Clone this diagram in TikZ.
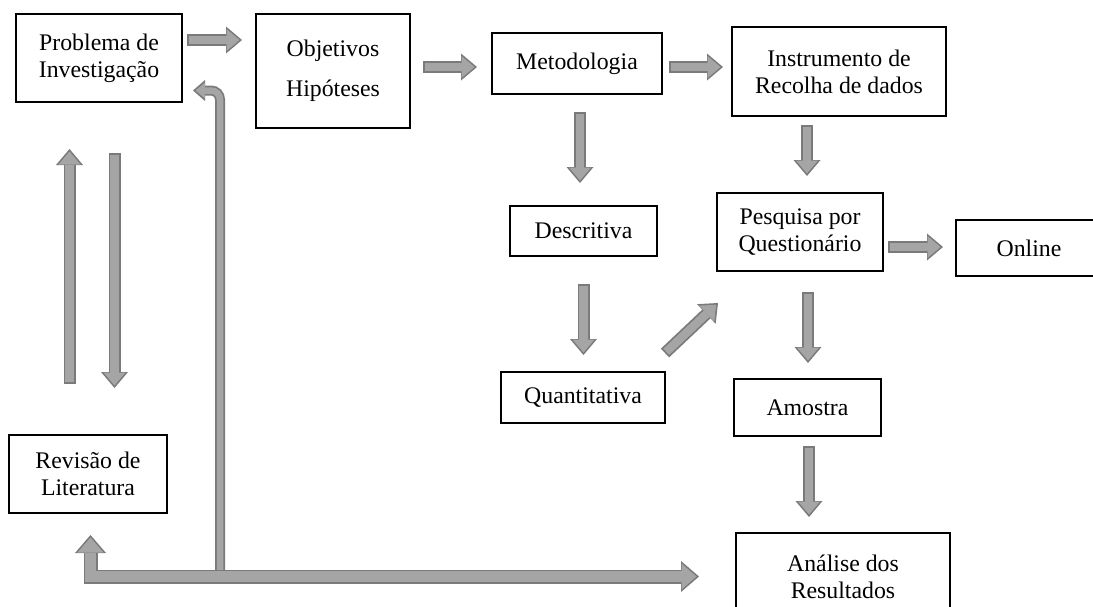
\documentclass[tikz,border=0pt]{standalone}
\usepackage{fontspec}
\setmainfont{Liberation Serif}
\usepackage{tikz}
\usetikzlibrary{arrows.meta}
\definecolor{flowink}{HTML}{000000}
\definecolor{flowfill}{HTML}{A5A5A5}
\definecolor{flowedge}{HTML}{7A7A7A}

\begin{document}
\begin{tikzpicture}[
  x=1pt, y=-1pt,
  font=\fontsize{23.8}{27}\selectfont,
  box/.style={draw=flowink, line width=1.4pt, align=center, inner sep=0pt, outer sep=0pt},
  arr/.style={draw=flowedge, line width=12pt, -{Triangle[length=16pt,width=27pt,line width=0pt]},
    postaction={draw=flowfill, line width=8.5pt, shorten <=1.75pt, shorten >=2.5pt,
      -{Triangle[length=13pt,width=22pt,line width=0pt]}}},
  arrthin/.style={draw=flowedge, line width=10pt, rounded corners=9pt, -{Triangle[length=12pt,width=21pt,line width=0pt]},
    postaction={draw=flowfill, line width=6.5pt, shorten >=2.5pt,
      -{Triangle[length=9.5pt,width=16pt,line width=0pt]}}},
  arrwide/.style={draw=flowedge, line width=14pt,
    {Triangle[length=18pt,width=31pt,line width=0pt]}-{Triangle[length=18pt,width=31pt,line width=0pt]},
    postaction={draw=flowfill, line width=10.5pt, shorten <=2.5pt, shorten >=2.5pt,
      {Triangle[length=15pt,width=26pt,line width=0pt]}-{Triangle[length=15pt,width=26pt,line width=0pt]}}}
]
\clip (0,0) rectangle (1093,606);
\node[box, minimum width=166pt, minimum height=88pt] (prob) at (99,58) {Problema de\\Investigação};
\node[box, minimum width=154pt, minimum height=114pt] (obj) at (333,71) {Objetivos\\[13pt]Hipóteses};
\node[box, minimum width=170pt, minimum height=61pt] (met) at (577,63.5) {Metodologia};
\node[box, minimum width=214pt, minimum height=89pt] (inst) at (839,71.5) {Instrumento de\\Recolha de dados};
\node[box, minimum width=147pt, minimum height=50pt] (desc) at (583.5,231) {Descritiva};
\node[box, minimum width=166pt, minimum height=78pt] (pesq) at (800,232) {Pesquisa por\\Questionário};
\node[box, minimum width=146pt, minimum height=56pt] (online) at (1029,248) {Online};
\node[box, minimum width=164pt, minimum height=51pt] (quant) at (583,397.5) {Quantitativa};
\node[box, minimum width=147pt, minimum height=57pt] (amos) at (807.5,407.5) {Amostra};
\node[box, minimum width=158pt, minimum height=78pt] (rev) at (88,474) {Revisão de\\Literatura};
\node[box, minimum width=214pt, minimum height=87pt] (anal) at (843,576.5) {Análise dos\\Resultados};

\draw[arr] ([xshift=5pt,yshift=18pt]prob.east) -- ([xshift=-14pt,yshift=31pt]obj.west);
\draw[arr] ([xshift=13pt,yshift=4pt]obj.east) -- ([xshift=-15pt,yshift=-3.5pt]met.west);
\draw[arr] ([xshift=7pt,yshift=-3.5pt]met.east) -- ([xshift=-9pt,yshift=4.5pt]inst.west);
\draw[arr] ([xshift=3pt,yshift=-18pt]met.south) -- ([xshift=-3.5pt,yshift=23pt]desc.north);
\draw[arr] ([xshift=-32pt,yshift=-9pt]inst.south) -- ([xshift=7pt,yshift=17pt]pesq.north);
\draw[arr] ([xshift=5pt,yshift=-15pt]pesq.east) -- ([xshift=-13pt,yshift=1pt]online.west);
\draw[arr] ([yshift=-28pt]desc.south) -- ([xshift=0.5pt,yshift=17pt]quant.north);
\draw[arr] ([yshift=19pt]quant.north east) -- ([xshift=1pt,yshift=-32pt]pesq.south west);
\draw[arr] ([xshift=8pt,yshift=-21pt]pesq.south) -- ([xshift=0.5pt,yshift=16pt]amos.north);
\draw[arr] ([xshift=1.5pt,yshift=-10pt]amos.south) -- ([xshift=-34pt,yshift=16pt]anal.north);
\draw[arr] ([xshift=-18.5pt,yshift=51pt]rev.north) -- ([xshift=-29.5pt,yshift=-47pt]prob.south);
\draw[arr] ([xshift=15.5pt,yshift=-51pt]prob.south) -- ([xshift=26.5pt,yshift=47pt]rev.north);

% feedback to the problem, then literature review and analysis
\coordinate (jn) at (220,576.5);
\draw[arrthin] (jn) |- ([xshift=11pt,yshift=-32.5pt]prob.east);
\draw[arrwide] ([xshift=2.5pt,yshift=-22pt]rev.south) |- ([xshift=-37pt]anal.west);
\end{tikzpicture}
\end{document}
